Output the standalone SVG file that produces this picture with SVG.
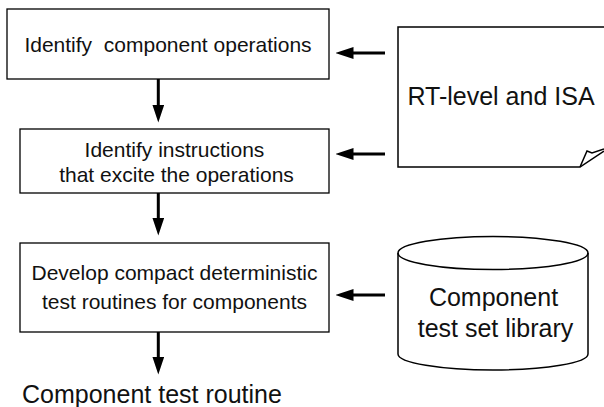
<svg xmlns="http://www.w3.org/2000/svg" width="604" height="407" viewBox="0 0 604 407">
<defs>
<style>
.box{fill:#fff;stroke:#000;stroke-width:1.3}
.shape{fill:#fff;stroke:#000;stroke-width:1.5}
.t{font-family:"Liberation Sans",Arial,sans-serif;fill:#111;text-anchor:middle}
.s21{font-size:21px}
.s25{font-size:25px}
.c{stroke:#000;stroke-width:3;fill:none}
</style>
<marker id="ah" markerWidth="6" markerHeight="4" refX="0.5" refY="2" orient="auto" markerUnits="strokeWidth">
<path d="M0,0 L6,2 L0,4 Z" fill="#000"/>
</marker>
</defs>
<rect width="604" height="407" fill="#fff"/>
<g id="n1">
<rect class="box" x="7" y="9" width="322" height="70"/>
<text class="t s21" x="168" y="52" xml:space="preserve">Identify  component operations</text>
</g>
<g id="n2">
<rect class="box" x="20" y="129" width="309" height="64"/>
<text class="t s21" x="174.5" y="157">Identify instructions</text>
<text class="t s21" x="176.5" y="182">that excite the operations</text>
</g>
<g id="n3">
<rect class="box" x="20" y="243" width="309" height="89"/>
<text class="t s21" x="174.5" y="280">Develop compact deterministic</text>
<text class="t s21" x="174.5" y="309">test routines for components</text>
</g>
<g id="doc">
<path class="shape" d="M604,27 L398,27 L398,167 L580,167 L604,151"/>
<path class="shape" fill="none" d="M580,167 L587,151 L592,153 L604,149" style="fill:none"/>
<text class="t s25" x="501" y="105">RT-level and ISA</text>
</g>
<g id="lib">
<path class="shape" d="M398,253 L398,354 A95,16 0 0 0 588,354 L588,253 A95,16.5 0 0 0 398,253 Z"/>
<path class="shape" style="fill:none" d="M398,253 A95,16.5 0 0 0 588,253"/>
<text class="t s25" x="493.5" y="306">Component</text>
<text class="t s25" x="495.5" y="337">test set library</text>
</g>
<g id="out">
<text class="s25" x="22" y="403" style="font-family:'Liberation Sans',Arial,sans-serif;fill:#111">Component test routine</text>
</g>
<g id="connectors">
<line class="c" x1="158.3" y1="79" x2="158.3" y2="106" marker-end="url(#ah)"/>
<line class="c" x1="158.3" y1="193" x2="158.3" y2="219" marker-end="url(#ah)"/>
<line class="c" x1="158.3" y1="332" x2="158.3" y2="358" marker-end="url(#ah)"/>
<line class="c" x1="385" y1="53" x2="352" y2="53" marker-end="url(#ah)"/>
<line class="c" x1="385" y1="154" x2="352" y2="154" marker-end="url(#ah)"/>
<line class="c" x1="385" y1="295" x2="352" y2="295" marker-end="url(#ah)"/>
</g>
</svg>
